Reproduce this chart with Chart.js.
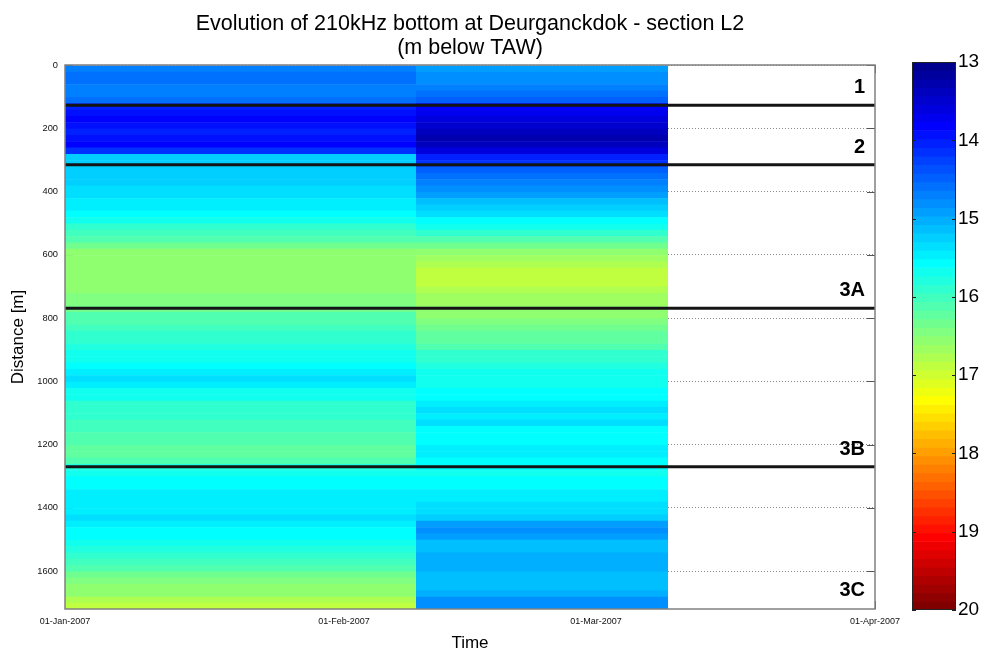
<!DOCTYPE html>
<html>
<head>
<meta charset="utf-8">
<title>Evolution of 210kHz bottom at Deurganckdok - section L2</title>
<script src="https://cdn.jsdelivr.net/npm/chart.js@4/dist/chart.umd.min.js"></script>
<style>
  html, body { margin: 0; padding: 0; background: #ffffff; }
  #wrap { position: relative; width: 988px; height: 650px; }
  #main { position: absolute; left: 0; top: 0; }
  #cbar { position: absolute; left: 880px; top: 0; }
</style>
</head>
<body>
<div id="wrap">
  <canvas id="main" width="988" height="650"></canvas>
  <canvas id="cbar" width="108" height="650"></canvas>
</div>
<script>
// ---- survey data -------------------------------------------------------
// Survey coverage, in days since 01-Jan-2007
const surveyDays = [[0, 39], [39, 67]];
const surveyNames = ['Survey January 2007', 'Survey February 2007'];

// Along-section distance of each 20 m cell centre [m]
const distances = [
  12, 32, 52, 72, 92, 112, 132, 152, 172, 192,
  212, 232, 252, 272, 292, 312, 332, 352, 372, 392,
  412, 432, 452, 472, 492, 512, 532, 552, 572, 592,
  612, 632, 652, 672, 692, 712, 732, 752, 772, 792,
  812, 832, 852, 872, 892, 912, 932, 952, 972, 992,
  1012, 1032, 1052, 1072, 1092, 1112, 1132, 1152, 1172, 1192,
  1212, 1232, 1252, 1272, 1292, 1312, 1332, 1352, 1372, 1392,
  1412, 1432, 1452, 1472, 1492, 1512, 1532, 1552, 1572, 1592,
  1612, 1632, 1652, 1672, 1692, 1712
];

// Bottom level per cell [m below TAW], first survey
const depthJan = [
  14.7, 14.6, 14.6, 14.65, 14.65, 14.55, 14.0, 13.9, 13.85, 13.95,
  14.0, 13.9, 13.85, 14.1, 15.25, 15.25, 15.25, 15.2, 15.25, 15.3,
  15.35, 15.45, 15.5, 15.6, 15.7, 15.85, 16.0, 16.1, 16.35, 16.55,
  16.55, 16.6, 16.6, 16.55, 16.55, 16.5, 16.45, 16.4, 16.3, 16.15,
  16.1, 16.0, 15.95, 15.9, 15.75, 15.65, 15.65, 15.55, 15.45, 15.4,
  15.5, 15.65, 15.7, 15.85, 15.95, 15.95, 16.0, 16.0, 16.1, 16.15,
  16.2, 16.2, 16.15, 15.75, 15.65, 15.6, 15.55, 15.5, 15.5, 15.45,
  15.45, 15.4, 15.45, 15.55, 15.6, 15.7, 15.8, 15.95, 16.05, 16.15,
  16.3, 16.4, 16.5, 16.6, 16.75, 16.85
];

// Bottom level per cell [m below TAW], second survey
const depthFeb = [
  14.9, 14.8, 14.75, 14.7, 14.55, 14.45, 13.85, 13.75, 13.6, 13.45,
  13.35, 13.3, 13.4, 13.55, 14.05, 14.2, 14.45, 14.6, 14.65, 14.8,
  14.9, 15.1, 15.25, 15.35, 15.55, 15.7, 15.95, 16.1, 16.3, 16.5,
  16.65, 16.75, 16.85, 16.9, 16.85, 16.75, 16.65, 16.65, 16.6, 16.55,
  16.45, 16.3, 16.25, 16.2, 16.1, 15.95, 15.85, 15.8, 15.7, 15.65,
  15.65, 15.6, 15.6, 15.5, 15.3, 15.45, 15.4, 15.55, 15.6, 15.55,
  15.45, 15.5, 15.6, 15.6, 15.65, 15.6, 15.55, 15.45, 15.45, 15.4,
  15.3, 15.25, 14.9, 14.85, 14.9, 15.15, 15.1, 15.0, 15.0, 15.0,
  15.1, 15.1, 15.1, 15.05, 14.85, 14.85
];

// Axis ticks
const timeTicks = [0, 31, 59, 90];
const timeTickLabels = ['01-Jan-2007', '01-Feb-2007', '01-Mar-2007', '01-Apr-2007'];
const distanceTicks = [0, 200, 400, 600, 800, 1000, 1200, 1400, 1600];
const colourTicks = [13, 14, 15, 16, 17, 18, 19, 20];

// Section boundaries and section names (with the distance they are written at)
const sectionBounds = [127, 315, 769, 1270];
const sectionNames = ['1', '2', '3A', '3B', '3C'];
const sectionLabelAt = [70, 261, 713, 1216, 1662];

// ---- colour map (64-level jet, 13 .. 20 m) -----------------------------
const cMin = 13, cMax = 20, nLevels = 64;
function jetRGB(i) {
  const k = i + 1;
  const u = n => (n <= 16 ? n / 16 : n <= 31 ? 1 : (48 - n) / 16);
  const r = k >= 25 ? u(k - 24) : 0;
  const g = (k >= 9 && k <= 55) ? u(k - 8) : 0;
  const b = k <= 39 ? u(k + 8) : 0;
  return 'rgb(' + Math.round(r * 255) + ',' + Math.round(g * 255) + ',' + Math.round(b * 255) + ')';
}
function levelOf(v) {
  const i = Math.floor((v - cMin) / (cMax - cMin) * nLevels);
  return Math.max(0, Math.min(nLevels - 1, i));
}

Chart.defaults.font.family = "'Liberation Sans', Arial, sans-serif";
Chart.defaults.color = '#000';

// ---- main section chart -------------------------------------------------
const heatDatasets = [depthJan, depthFeb].map((vals, s) => ({
  label: surveyNames[s],
  data: distances.map(d => ({ y: d, x: surveyDays[s].slice() })),
  backgroundColor: vals.map(v => jetRGB(levelOf(v))),
  borderWidth: 0
}));

const axesDecor = {
  id: 'axesDecor',
  beforeDatasetsDraw(chart) {
    // inward tick marks, underneath the survey cells
    const { ctx, chartArea: a, scales: { x, y } } = chart;
    ctx.save();
    ctx.strokeStyle = '#555';
    ctx.lineWidth = 1;
    ctx.beginPath();
    distanceTicks.forEach(v => {
      const py = Math.round(y.getPixelForValue(v)) + 0.5;
      ctx.moveTo(a.left, py); ctx.lineTo(a.left + 8, py);
      ctx.moveTo(a.right, py); ctx.lineTo(a.right - 8, py);
    });
    timeTicks.forEach(v => {
      const px = Math.round(x.getPixelForValue(v)) + 0.5;
      ctx.moveTo(px, a.top); ctx.lineTo(px, a.top + 8);
      ctx.moveTo(px, a.bottom); ctx.lineTo(px, a.bottom - 8);
    });
    ctx.stroke();
    ctx.restore();
  },
  afterDatasetsDraw(chart) {
    const { ctx, chartArea: a, scales: { y } } = chart;
    ctx.save();
    // section boundaries
    ctx.strokeStyle = '#141414';
    ctx.lineWidth = 3;
    sectionBounds.forEach(d => {
      const py = y.getPixelForValue(d);
      ctx.beginPath();
      ctx.moveTo(a.left, py);
      ctx.lineTo(a.right, py);
      ctx.stroke();
    });
    // section names
    ctx.fillStyle = '#000';
    ctx.font = "bold 20px 'Liberation Sans', Arial, sans-serif";
    ctx.textAlign = 'right';
    ctx.textBaseline = 'middle';
    sectionNames.forEach((name, i) => {
      ctx.fillText(name, a.right - 10, y.getPixelForValue(sectionLabelAt[i]));
    });
    // axes box
    ctx.strokeStyle = '#808080';
    ctx.lineWidth = 1.5;
    ctx.strokeRect(a.left, a.top, a.right - a.left, a.bottom - a.top);
    ctx.restore();
  }
};

new Chart(document.getElementById('main'), {
  type: 'bar',
  data: { datasets: heatDatasets },
  options: {
    indexAxis: 'y',
    responsive: false,
    animation: false,
    events: [],
    layout: { padding: { left: 0, right: 113, top: 0, bottom: 0 } },
    datasets: {
      bar: { grouped: false, barPercentage: 1.08, categoryPercentage: 1 }
    },
    plugins: {
      legend: { display: false },
      tooltip: { enabled: false },
      title: {
        display: true,
        fullSize: false,
        text: ['Evolution of 210kHz bottom at Deurganckdok - section L2', '(m below TAW)'],
        color: '#000',
        font: { size: 21.5, weight: 'normal', lineHeight: 24 / 21.5 },
        padding: { top: 12.4, bottom: 4.6 }
      }
    },
    scales: {
      x: {
        type: 'linear',
        position: 'bottom',
        min: 0,
        max: 90,
        grid: { display: false, drawTicks: false },
        border: { display: false },
        afterBuildTicks: s => { s.ticks = timeTicks.map(v => ({ value: v })); },
        ticks: {
          autoSkip: false,
          maxRotation: 0,
          padding: 7,
          color: '#111',
          font: { size: 9 },
          callback: (v, i) => timeTickLabels[i]
        },
        title: {
          display: true,
          text: 'Time',
          color: '#000',
          font: { size: 17, lineHeight: 1 },
          padding: { top: 0, bottom: -2 }
        },
        afterFit: s => { s.height = 41; }
      },
      y: {
        type: 'linear',
        position: 'left',
        reverse: true,
        min: 0,
        max: 1720,
        offset: false,
        grid: { offset: false, drawTicks: false, color: '#8a8a8a', lineWidth: 1 },
        border: { display: false, dash: [1, 2] },
        afterBuildTicks: s => { s.ticks = distanceTicks.map(v => ({ value: v })); },
        ticks: { padding: 7, color: '#111', font: { size: 9.3 }, callback: v => String(v) },
        title: {
          display: true,
          text: 'Distance [m]',
          color: '#000',
          font: { size: 17 },
          padding: { top: 8, bottom: 0 }
        },
        afterFit: s => { s.width = 65; }
      }
    }
  },
  plugins: [axesDecor]
});

// ---- colour bar ---------------------------------------------------------
const cbStep = (cMax - cMin) / nLevels;
const cbDatasets = [];
for (let i = 0; i < nLevels; i++) {
  const lo = cMin + i * cbStep;
  cbDatasets.push({ data: [[lo, lo + cbStep]], backgroundColor: jetRGB(i), borderWidth: 0 });
}

const cbFrame = {
  id: 'cbFrame',
  afterDatasetsDraw(chart) {
    const { ctx, chartArea: a, scales: { y } } = chart;
    ctx.save();
    ctx.strokeStyle = '#222';
    ctx.lineWidth = 1;
    ctx.beginPath();
    colourTicks.forEach(v => {
      const py = Math.round(y.getPixelForValue(v)) + 0.5;
      ctx.moveTo(a.left, py); ctx.lineTo(a.left + 4, py);
      ctx.moveTo(a.right, py); ctx.lineTo(a.right - 4, py);
    });
    ctx.stroke();
    ctx.strokeRect(Math.round(a.left) + 0.5, Math.round(a.top) + 0.5,
      Math.round(a.right - a.left) - 1, Math.round(a.bottom - a.top) - 1);
    ctx.restore();
  }
};

new Chart(document.getElementById('cbar'), {
  type: 'bar',
  data: { labels: [''], datasets: cbDatasets },
  options: {
    responsive: false,
    animation: false,
    events: [],
    layout: { padding: { left: 32, right: 0, top: 62, bottom: 40 } },
    datasets: { bar: { grouped: false, barPercentage: 1, categoryPercentage: 1 } },
    plugins: { legend: { display: false }, tooltip: { enabled: false } },
    scales: {
      x: { display: false },
      y: {
        position: 'right',
        reverse: true,
        min: cMin,
        max: cMax,
        grid: { display: false, drawTicks: false },
        border: { display: false },
        afterBuildTicks: s => { s.ticks = colourTicks.map(v => ({ value: v })); },
        ticks: { padding: 2, color: '#000', font: { size: 19 } },
        afterFit: s => { s.width = 32; }
      }
    }
  },
  plugins: [cbFrame]
});
</script>
</body>
</html>
